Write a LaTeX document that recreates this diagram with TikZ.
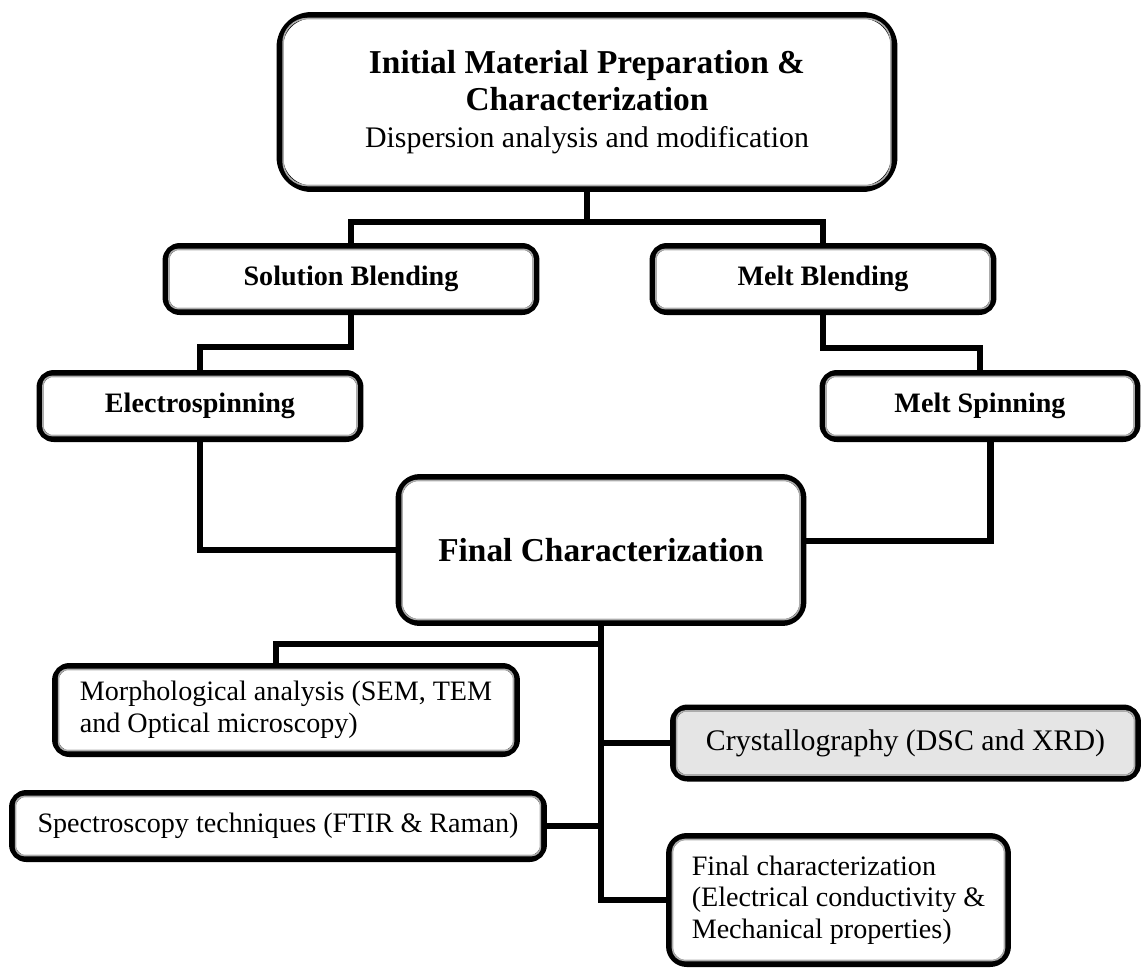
\documentclass[tikz,border=0pt]{standalone}
\usepackage{fontspec}
\setmainfont{Liberation Serif}
\usetikzlibrary{positioning}

\begin{document}
\begin{tikzpicture}
	[x=0.02cm, y=-0.02cm,
	 box/.style={draw, line width=3.7pt, rounded corners=8pt, align=center, inner sep=0pt,
	   font=\fontsize{16}{18}\selectfont},
	 head/.style={box, font=\fontsize{16}{18}\selectfont\bfseries},
	 big/.style={box, rounded corners=18pt, font=\fontsize{19}{21}\selectfont\bfseries},
	 inner/.style={draw=gray!65, line width=0.9pt},
	 link/.style={line width=3.6pt}]
   \useasboundingbox (0,0) rectangle (1143,968);
   % boxes
   \node[big, minimum width=12.29cm, minimum height=3.47cm] (init) at (587,102)
     {Initial Material Preparation \&\\Characterization\\
      {\mdseries\fontsize{17}{20}\selectfont Dispersion analysis and modification}};
   \node[head, minimum width=7.41cm, minimum height=1.31cm] (sol) at (351,279) {Solution Blending};
   \node[head, minimum width=6.81cm, minimum height=1.31cm] (melt) at (823,279) {Melt Blending};
   \node[head, minimum width=6.41cm, minimum height=1.31cm] (elec) at (200,406) {Electrospinning};
   \node[head, minimum width=6.29cm, minimum height=1.31cm] (mspin) at (980,406) {Melt Spinning};
   \node[big, rounded corners=12pt, minimum width=8.09cm, minimum height=2.91cm] (final) at (601,550)
     {Final Characterization};
   \node[box, align=left, minimum width=9.23cm, minimum height=1.75cm] (morph) at (286,710)
     {Morphological analysis (SEM, TEM\\and Optical microscopy)};
   \node[box, fill=gray!20, font=\fontsize{17}{19}\selectfont, minimum width=9.29cm, minimum height=1.41cm]
     (cryst) at (905.5,743) {Crystallography (DSC and XRD)};
   \node[box, minimum width=10.63cm, minimum height=1.31cm] (spec) at (278,826)
     {Spectroscopy techniques (FTIR \& Raman)};
   \node[box, align=left, rounded corners=10pt, minimum width=6.77cm, minimum height=2.55cm] (fchar) at (838.5,900)
     {Final characterization\\(Electrical conductivity \&\\Mechanical properties)};
   % inner lines
   \foreach \n/\r in {init/14pt, final/9pt, sol/5pt, melt/5pt, elec/5pt, mspin/5pt,
                      morph/5pt, cryst/5pt, spec/5pt, fchar/7pt}
     \draw[inner, rounded corners=\r] ([shift={(6.5,6.5)}]\n.north west) rectangle ([shift={(-6.5,-6.5)}]\n.south east);
   % connectors
   \path (init.south) ++(0,30) coordinate (s1);
   \path (sol.south) ++(0,32) coordinate (s2);
   \path (melt.south) ++(0,33) coordinate (s3);
   \path (morph.north) ++(-10,-19) coordinate (s4);
   \draw[link] (init.south) -- (s1);
   \draw[link] (sol.north) |- (s1) -| (melt.north);
   \draw[link] (sol.south) -- (s2) -| (elec.north);
   \draw[link] (melt.south) -- (s3) -| (mspin.north);
   \draw[link] (elec.south) |- (final.west);
   \draw[link] ([xshift=6pt]mspin.south) |- ([yshift=5pt]final.east);
   \draw[link] (final.south) |- (fchar.west);
   \draw[link] (s4 |- morph.north) -- (s4) -- (s4 -| final.south);
   \draw[link] (spec.east) -- (spec.east -| final.south);
   \draw[link] (cryst.west) -- (cryst.west -| final.south);
\end{tikzpicture}
\end{document}
